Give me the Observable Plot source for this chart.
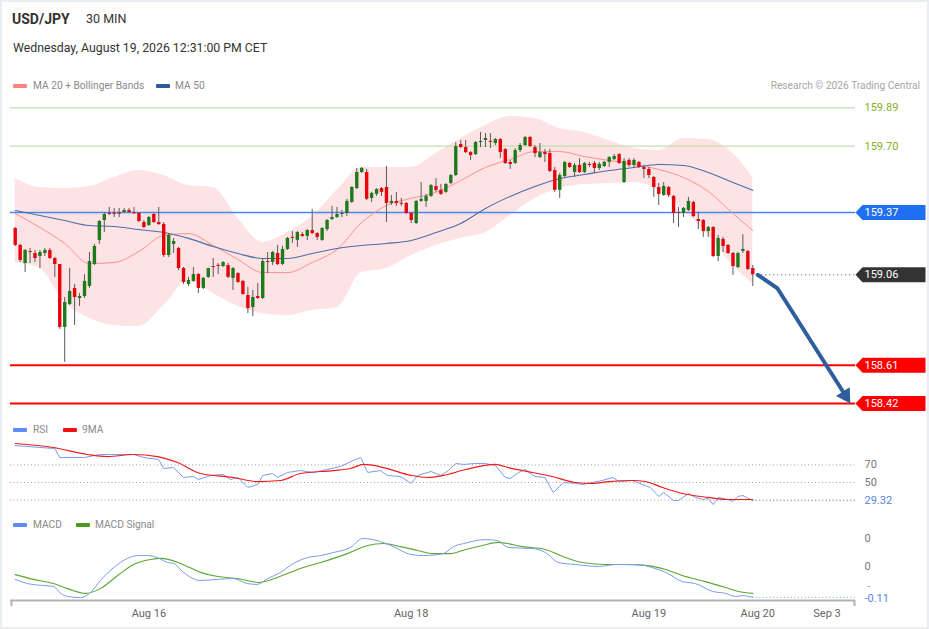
<!DOCTYPE html>
<html><head><meta charset="utf-8">
<script src="https://cdn.jsdelivr.net/npm/d3@7"></script>
<script src="https://cdn.jsdelivr.net/npm/@observablehq/plot@0.6"></script>
<style>
body{margin:0;background:#fff;font-family:Roboto,"Liberation Sans",Arial,sans-serif;}
#wrap{position:relative;width:929px;height:629px;overflow:hidden;background:#fff;}
.frame{position:absolute;left:0;top:0;width:925px;height:625px;border:2px solid #e8eef2;pointer-events:none;}
.t{position:absolute;white-space:nowrap;line-height:1;}
.sw{position:absolute;width:14px;height:4px;border-radius:1px;}
.leg{font-size:10.2px;color:#8a8a8a;}
.panel{position:absolute;left:0;}
</style></head><body>
<div id="wrap">
  <div class="frame"></div>
  <div class="t" style="left:12px;top:12px;font-size:14px;font-weight:bold;color:#333;">USD/JPY</div>
  <div class="t" style="left:86px;top:12.5px;font-size:12.5px;color:#333;">30 MIN</div>
  <div class="t" style="left:13px;top:41.5px;font-size:12.3px;color:#333;">Wednesday, August 19, 2026 12:31:00 PM CET</div>

  <div class="sw" style="left:13px;top:84px;background:#ff8080;"></div>
  <div class="t leg" style="left:33px;top:81px;">MA 20 + Bollinger Bands</div>
  <div class="sw" style="left:156px;top:84px;background:#2e5a9c;"></div>
  <div class="t leg" style="left:175px;top:81px;">MA 50</div>
  <div class="t leg" style="right:9px;top:81px;color:#a6a6a6;">Research © 2026 Trading Central</div>

  <div class="sw" style="left:13px;top:428px;background:#5b8ef0;"></div>
  <div class="t leg" style="left:33px;top:425px;">RSI</div>
  <div class="sw" style="left:63px;top:428px;background:#f01010;"></div>
  <div class="t leg" style="left:82px;top:425px;">9MA</div>

  <div class="sw" style="left:13px;top:523px;background:#5b8ef0;"></div>
  <div class="t leg" style="left:33px;top:520px;">MACD</div>
  <div class="sw" style="left:76px;top:523px;background:#4c9a1c;"></div>
  <div class="t leg" style="left:95px;top:520px;">MACD Signal</div>

  <div id="pMain" class="panel" style="top:95px;"></div>
  <div id="pRsi" class="panel" style="top:436px;"></div>
  <div id="pMacd" class="panel" style="top:532px;"></div>
</div>
<script>
// ---------- DATA ----------
const open = [
159.290,159.206,159.116,159.176,159.166,159.151,159.166,159.181,159.141,159.111,
158.798,158.912,158.992,158.942,158.952,159.002,159.111,159.231,159.330,159.365,
159.365,159.365,159.370,159.380,159.368,159.365,159.320,159.305,159.360,159.320,
159.310,159.156,159.211,159.191,159.091,159.012,159.027,159.061,158.992,159.047,
159.101,159.106,159.101,159.106,159.042,159.066,159.027,158.957,158.897,158.952,
158.942,159.126,159.121,159.166,159.111,159.186,159.246,159.231,159.260,159.251,
159.280,159.265,159.231,159.285,159.335,159.345,159.360,159.365,159.420,159.489,
159.569,159.569,159.440,159.460,159.489,159.494,159.415,159.425,159.415,159.415,
159.365,159.315,159.425,159.425,159.450,159.499,159.480,159.470,159.514,159.554,
159.708,159.693,159.668,159.658,159.718,159.728,159.723,159.713,159.733,159.683,
159.619,159.614,159.678,159.703,159.743,159.693,159.643,159.668,159.663,159.579,
159.480,159.549,159.614,159.569,159.604,159.569,159.609,159.614,159.589,159.599,
159.619,159.633,159.658,159.519,159.629,159.604,159.619,159.594,159.584,159.544,
159.494,159.455,159.494,159.450,159.370,159.365,159.380,159.420,159.335,159.330,
159.275,159.295,159.151,159.236,159.206,159.166,159.096,159.176,159.176,159.091];
const high = [
159.295,159.211,159.186,159.191,159.181,159.181,159.191,159.191,159.146,159.111,
158.947,159.091,159.012,158.967,159.061,159.171,159.211,159.330,159.370,159.395,
159.390,159.390,159.390,159.390,159.395,159.370,159.330,159.350,159.365,159.395,
159.320,159.265,159.241,159.196,159.096,159.047,159.096,159.066,159.047,159.091,
159.141,159.116,159.126,159.116,159.096,159.071,159.032,158.997,158.982,159.017,
159.141,159.171,159.176,159.206,159.201,159.246,159.275,159.275,159.270,159.285,
159.385,159.270,159.295,159.335,159.400,159.395,159.380,159.435,159.499,159.589,
159.594,159.584,159.470,159.489,159.494,159.599,159.455,159.470,159.440,159.420,
159.370,159.430,159.519,159.460,159.509,159.539,159.509,159.514,159.559,159.718,
159.728,159.728,159.673,159.723,159.768,159.763,159.763,159.738,159.738,159.688,
159.629,159.688,159.713,159.748,159.748,159.703,159.713,159.683,159.683,159.594,
159.564,159.624,159.619,159.614,159.638,159.619,159.619,159.624,159.619,159.624,
159.648,159.658,159.663,159.638,159.638,159.638,159.624,159.604,159.594,159.549,
159.514,159.519,159.499,159.455,159.395,159.395,159.445,159.425,159.370,159.335,
159.300,159.300,159.256,159.246,159.211,159.171,159.171,159.260,159.181,159.106];
const low = [
159.201,159.121,159.071,159.116,159.121,159.091,159.151,159.136,159.047,158.788,
158.624,158.907,158.808,158.902,158.942,158.992,159.106,159.211,159.270,159.355,
159.345,159.345,159.365,159.365,159.360,159.320,159.290,159.300,159.315,159.305,
159.146,159.146,159.166,159.081,159.012,159.002,159.022,158.967,158.987,159.042,
159.047,159.061,159.096,159.042,158.982,159.017,158.957,158.867,158.852,158.937,
158.937,159.066,159.106,159.106,159.106,159.181,159.216,159.196,159.246,159.231,
159.260,159.231,159.226,159.275,159.330,159.340,159.345,159.350,159.415,159.484,
159.564,159.430,159.420,159.450,159.450,159.320,159.405,159.400,159.400,159.360,
159.315,159.310,159.420,159.395,159.445,159.470,159.455,159.465,159.509,159.549,
159.688,159.663,159.629,159.653,159.693,159.693,159.688,159.703,159.638,159.609,
159.584,159.609,159.668,159.698,159.693,159.643,159.638,159.619,159.569,159.470,
159.440,159.544,159.589,159.544,159.564,159.564,159.594,159.564,159.579,159.594,
159.594,159.629,159.609,159.514,159.594,159.589,159.589,159.539,159.539,159.445,
159.405,159.450,159.445,159.315,159.295,159.345,159.375,159.345,159.285,159.246,
159.246,159.146,159.126,159.171,159.161,159.057,159.091,159.166,159.081,159.002];
const close = [
159.206,159.131,159.181,159.171,159.141,159.171,159.181,159.141,159.111,158.798,
158.922,158.977,158.947,158.952,159.027,159.126,159.201,159.325,159.360,159.360,
159.362,159.363,159.380,159.370,159.365,159.325,159.295,159.345,159.320,159.310,
159.156,159.256,159.226,159.091,159.022,159.032,159.061,158.992,159.042,159.091,
159.096,159.103,159.121,159.047,159.091,159.022,158.962,158.892,158.947,158.942,
159.126,159.121,159.171,159.111,159.186,159.241,159.241,159.270,159.251,159.280,
159.265,159.246,159.290,159.330,159.345,159.360,159.365,159.425,159.494,159.569,
159.589,159.435,159.465,159.484,159.470,159.415,159.425,159.415,159.412,159.365,
159.330,159.425,159.435,159.450,159.504,159.480,159.460,159.509,159.554,159.698,
159.693,159.668,159.653,159.718,159.723,159.738,159.720,159.733,159.668,159.614,
159.609,159.678,159.703,159.743,159.698,159.663,159.668,159.658,159.574,159.480,
159.554,159.619,159.594,159.604,159.569,159.614,159.604,159.589,159.609,159.619,
159.643,159.648,159.614,159.624,159.604,159.629,159.594,159.584,159.554,159.494,
159.460,159.499,159.455,159.365,159.365,159.390,159.425,159.350,159.325,159.275,
159.295,159.151,159.241,159.201,159.166,159.101,159.166,159.186,159.086,159.060];

const bandIdx = [0,5,10,15,20,25,30,35,40,45,50,55,60,65,70,75,80,85,90,95,100,105,110,115,120,125,130,135,140,145,149];
const bbUpper = [159.539,159.494,159.489,159.499,159.544,159.579,159.554,159.504,159.494,159.340,159.221,159.270,159.350,159.480,159.594,159.594,159.594,159.663,159.738,159.803,159.848,159.838,159.788,159.768,159.728,159.688,159.678,159.738,159.733,159.663,159.544];
const bbLower = [159.121,159.091,158.922,158.843,158.808,158.803,158.907,159.032,158.967,158.902,158.867,158.857,158.882,158.897,159.071,159.091,159.156,159.206,159.241,159.270,159.355,159.440,159.489,159.509,159.514,159.519,159.480,159.380,159.256,159.106,159.017];
const ma20 = [159.365,159.295,159.216,159.116,159.121,159.176,159.256,159.265,159.206,159.136,159.071,159.071,159.121,159.186,159.320,159.405,159.440,159.470,159.529,159.594,159.634,159.673,159.673,159.648,159.629,159.609,159.584,159.544,159.475,159.365,159.280];
const ma50 = [159.380,159.355,159.330,159.305,159.300,159.285,159.270,159.241,159.201,159.166,159.141,159.141,159.166,159.191,159.206,159.216,159.231,159.270,159.315,159.390,159.450,159.499,159.539,159.559,159.579,159.594,159.609,159.604,159.569,159.519,159.480];

const rsiIdx = [0,5,8,9,14,17,24,26,29,30,32,34,36,37,39.5,42,43.5,45,47,49,50,52,53,55,57.6,60.3,63,65.7,68.3,69.8,71.2,73.8,75.2,77.8,80,81.3,84,86,87.5,89,90.6,93,95,97,99,100,101.7,103,105,107,108.7,110.8,113.2,114.6,116.6,118.6,120.7,122,124.7,126.7,128.3,130,131,133,134,136,137.4,139,140,141,142,144,145,146,147,149];
const rsiVal = [92.0,89.8,88.6,78.4,78.4,81.8,81.8,78.4,76.1,65.9,67.0,55.7,56.8,53.4,58.0,59.1,53.4,55.7,44.3,47.7,58.0,60.2,55.7,61.4,63.6,61.4,64.8,68.2,75.0,78.4,61.4,63.6,58.0,56.8,48.9,58.0,62.5,58.0,63.6,71.6,70.5,71.6,71.6,69.3,55.7,54.5,61.4,64.8,56.8,55.7,38.6,50.0,48.9,47.7,50.0,52.3,55.7,51.1,52.3,47.7,44.3,34.1,38.6,29.5,29.5,37.5,33.0,30.7,31.8,25.0,33.0,30.7,28.4,34.1,35.2,29.32];
const ma9Idx = [0,7.7,14.6,18.6,24,28.7,32.8,37.4,44.1,48.9,53.6,57.6,64.3,67.7,70.4,74.4,80,83.3,86.5,91,97,99.6,104.5,108.5,113.2,116.6,120,124.7,127.3,130.8,134.8,140,143.5,149];
const ma9Val = [94.3,89.8,81.8,79.5,81.8,79.5,72.7,60.2,55.7,51.1,52.3,60.2,63.6,65.9,70.5,67.0,58.0,55.7,58.0,64.8,70.5,67.0,61.4,56.8,50.0,48.9,51.1,52.3,51.1,44.3,37.5,33.0,30.7,30.7];

const macdIdx = [0,2.5,5.7,7.7,9.2,10.6,13.2,15.2,17.2,19.9,22.7,24.7,26.7,28.7,30.8,32,34,37.4,40.9,44.1,46.9,48.9,51,53.6,56.2,59.1,61.7,64.3,67.7,70.2,73.8,76.4,79.9,82.5,86.5,88.5,90.6,95,97.4,99.6,104.5,107.1,109.8,113.2,117.8,121.3,125.9,128.7,131.4,134.8,137.4,140.9,143.5,145.5,146.9,149];
const macdVal = [-0.046,-0.061,-0.068,-0.071,-0.096,-0.107,-0.111,-0.093,-0.050,-0.004,0.029,0.039,0.039,0.032,0.014,0.011,-0.021,-0.050,-0.046,-0.043,-0.061,-0.064,-0.043,-0.021,0.011,0.032,0.039,0.050,0.068,0.100,0.089,0.071,0.043,0.039,0.046,0.071,0.082,0.096,0.093,0.068,0.064,0.050,0.014,0.007,0.000,0.007,0.007,-0.004,-0.021,-0.054,-0.061,-0.089,-0.096,-0.107,-0.104,-0.110];
const signalIdx = [0,3.7,7.7,10.6,14.2,17.2,20.7,23.9,27.3,29.4,33.4,37.4,40.9,44.9,49.2,53,57.6,61.7,67.1,71.2,74.4,77.8,81.3,84.5,87.9,91,94.4,97.6,102.5,107.1,111.2,114.6,119.3,122.7,127.3,131.4,135.4,139.4,143.5,146.1,149];
const signalVal = [-0.029,-0.046,-0.061,-0.079,-0.096,-0.079,-0.032,0.007,0.025,0.029,0.011,-0.021,-0.036,-0.043,-0.057,-0.039,-0.007,0.014,0.046,0.075,0.082,0.071,0.057,0.046,0.046,0.061,0.075,0.086,0.071,0.061,0.032,0.014,0.007,0.007,0.004,-0.011,-0.036,-0.054,-0.075,-0.089,-0.096];

const tickIdx = [27, 80, 128, 150, 164];
const tickLabels = ["Aug 16", "Aug 18", "Aug 19", "Aug 20", "Sep 3"];

const resistancePrices = [159.89, 159.70];
const pivotPrice = 159.37;
const lastPrice = 159.06;
const supportPrices = [158.61, 158.42];
const arrowIdx = [150, 154, 167.5];
const arrowPrice = [159.06, 158.992, 158.468];
const arrowHead = {i: 167.7, p: 158.459};

const rsiLevels = [70, 50, 30];
const rsiLast = 29.32;
const macdLabels = [0.1, 0];
const macdLast = -0.11;

// ---------- BUILD ----------
const FONT = "Roboto, 'Liberation Sans', Arial, sans-serif";
const XD = [-0.95, 169.75];
const common = {width: 929, marginLeft: 10, marginRight: 74, x: {domain: XD, axis: null}};
const st = {background: "transparent", overflow: "visible", fontFamily: FONT};

const candles = close.map((c, i) => {
  const o = open[i];
  let b1 = Math.min(o, c), b2 = Math.max(o, c);
  if (b2 - b1 < 0.005) { const m = (b1 + b2) / 2; b1 = m - 0.0025; b2 = m + 0.0025; }
  return {i, o, h: high[i], l: low[i], c, b1, b2, up: c > o};
});
const bands = bandIdx.map((i, k) => ({i, up: bbUpper[k], lo: bbLower[k], m20: ma20[k], m50: ma50[k]}));
const arrow = arrowIdx.map((i, k) => ({i, p: arrowPrice[k]}));

const tagSymbol = {draw(ctx) {
  ctx.moveTo(0, 0); ctx.lineTo(7, -7.5); ctx.lineTo(70, -7.5); ctx.lineTo(70, 7.5); ctx.lineTo(7, 7.5); ctx.closePath();
}};
const tags = [
  {p: pivotPrice, c: "#1f6ff0"},
  {p: lastPrice, c: "#333333"},
  {p: supportPrices[0], c: "#ff0000"},
  {p: supportPrices[1], c: "#ff0000"}
];

const mainMarks = [
  Plot.areaY(bands, {x: "i", y1: "lo", y2: "up", fill: "#fde3e3", curve: "monotone-x"}),
  Plot.ruleY(resistancePrices, {stroke: "#c5deb0", strokeWidth: 1.3}),
  Plot.ruleY([pivotPrice], {stroke: "#4a86f2", strokeWidth: 1.6}),
  Plot.ruleY(supportPrices, {stroke: "#ff0000", strokeWidth: 2}),
  Plot.line(bands, {x: "i", y: "m20", stroke: "#ff9090", strokeWidth: 1, curve: "monotone-x"}),
  Plot.line(bands, {x: "i", y: "m50", stroke: "#4a6ea8", strokeWidth: 1.1, curve: "monotone-x"}),
  Plot.ruleX(candles, {x: "i", y1: "l", y2: "h", stroke: "#5a5a5a", strokeWidth: 1}),
  Plot.ruleX(candles, {x: "i", y1: "b1", y2: "b2", stroke: d => d.up ? "#1d7a1d" : "#e8000a", strokeWidth: 3.4}),
  Plot.ruleY([lastPrice], {x1: 150, x2: XD[1], stroke: "#444", strokeWidth: 1, strokeDasharray: "1,3"}),
  Plot.line(arrow, {x: "i", y: "p", stroke: "#2e5e9e", strokeWidth: 4, strokeLinejoin: "round", strokeLinecap: "round"}),
  Plot.dot([arrowHead], {x: "i", y: "p", symbol: "triangle", r: 6, fill: "#2e5e9e", rotate: 147.6}),
  Plot.text(resistancePrices, {y: d => d, text: d => d.toFixed(2), frameAnchor: "right", dx: 9, textAnchor: "start", fill: "#82b02a", fontSize: 11})
];
for (const t of tags) {
  mainMarks.push(Plot.dot([t], {y: "p", frameAnchor: "right", symbol: tagSymbol, fill: t.c, stroke: "none"}));
  mainMarks.push(Plot.text([t], {y: "p", text: d => d.p.toFixed(2), frameAnchor: "right", dx: 9, textAnchor: "start", fill: "white", fontSize: 11}));
}

const mainPlot = Plot.plot({
  ...common, height: 325, marginTop: 0, marginBottom: 0,
  y: {domain: [158.335, 159.952], axis: null},
  style: st,
  marks: mainMarks
});
document.getElementById("pMain").append(mainPlot);

const rsiData = rsiIdx.map((i, k) => ({i, v: rsiVal[k]}));
const ma9Data = ma9Idx.map((i, k) => ({i, v: ma9Val[k]}));
const rsiPlot = Plot.plot({
  ...common, height: 94, marginTop: 2, marginBottom: 4,
  y: {domain: [0, 100], axis: null},
  style: st,
  marks: [
    Plot.ruleY(rsiLevels, {stroke: "#a0a0a0", strokeWidth: 1, strokeDasharray: "1,2.5"}),
    Plot.ruleY([rsiLast], {x1: 149, x2: XD[1], stroke: "#7096ea", strokeWidth: 1, strokeDasharray: "1,2.5"}),
    Plot.line(rsiData, {x: "i", y: "v", stroke: "#7a9cee", strokeWidth: 1}),
    Plot.line(ma9Data, {x: "i", y: "v", stroke: "#f21a1a", strokeWidth: 1.2, curve: "monotone-x"}),
    Plot.text([70, 50], {y: d => d, text: d => String(d), frameAnchor: "right", dx: 9, textAnchor: "start", fill: "#777", fontSize: 11}),
    Plot.text([rsiLast], {y: d => d, text: d => d.toFixed(2), frameAnchor: "right", dx: 9, textAnchor: "start", fill: "#5a83e6", fontSize: 11})
  ]
});
document.getElementById("pRsi").append(rsiPlot);

const YB = -0.1214;
const macdData = macdIdx.map((i, k) => ({i, v: macdVal[k]}));
const sigData = signalIdx.map((i, k) => ({i, v: signalVal[k]}));
const ticks = tickIdx.map((i, k) => ({i, label: tickLabels[k]}));
const macdPlot = Plot.plot({
  ...common, height: 90, marginTop: 0, marginBottom: 22,
  y: {domain: [YB, -YB], axis: null},
  style: st,
  marks: [
    Plot.ruleY([macdLast], {x1: 149, x2: XD[1], stroke: "#7096ea", strokeWidth: 1, strokeDasharray: "1,2.5"}),
    Plot.line(sigData, {x: "i", y: "v", stroke: "#5aa832", strokeWidth: 1.1, curve: "monotone-x"}),
    Plot.line(macdData, {x: "i", y: "v", stroke: "#7a9cee", strokeWidth: 1, curve: "monotone-x"}),
    Plot.ruleY([YB], {stroke: "#b3b3b3", strokeWidth: 2}),
    Plot.ruleX([XD[0] + 0.2, XD[1] - 0.2], {y1: YB, y2: YB - 6 / 280, stroke: "#b3b3b3", strokeWidth: 2}),
    Plot.text(ticks, {x: "i", y: YB, text: "label", dy: 13, fill: "#666", fontSize: 11}),
    Plot.text(macdLabels, {y: d => d, text: () => "0", frameAnchor: "right", dx: 9, textAnchor: "start", fill: "#777", fontSize: 11}),
    Plot.text([-0.07], {y: d => d, text: () => "-", frameAnchor: "right", dx: 12, textAnchor: "start", fill: "#777", fontSize: 9}),
    Plot.text([macdLast], {y: d => d, text: d => d.toFixed(2), frameAnchor: "right", dx: 9, dy: 1.5, textAnchor: "start", fill: "#5a83e6", fontSize: 11})
  ]
});
document.getElementById("pMacd").append(macdPlot);
</script>
</body></html>
